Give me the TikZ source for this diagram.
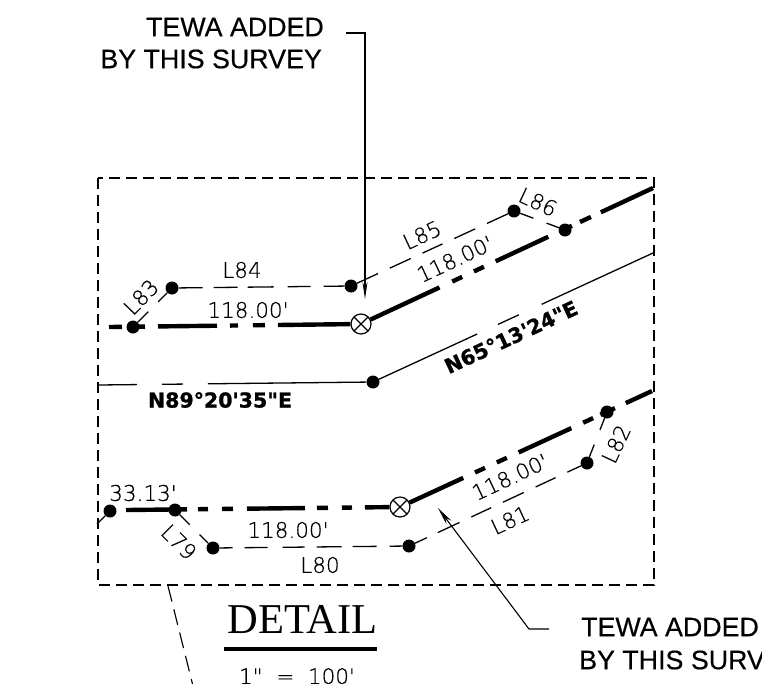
\documentclass[tikz,border=0pt]{standalone}
\usepackage{fontspec}
\usetikzlibrary{arrows.meta}
\newfontfamily\cadthin[FakeBold=0.5]{DejaVu Sans ExtraLight}
\newfontfamily\cadbold[FakeBold=1.2]{DejaVu Sans Bold}
\newfontfamily\notefont[FakeBold=0.4]{Liberation Sans}
\newfontfamily\titlefont{Liberation Serif}
\tikzset{
  dotnode/.style={circle,fill=black,inner sep=0pt,minimum size=13pt},
  tienode/.style={circle,draw,line width=1.2pt,fill=white,inner sep=0pt,minimum size=20pt,
    path picture={\draw[line width=1.2pt] (path picture bounding box.north west) -- (path picture bounding box.south east);
      \draw[line width=1.2pt] (path picture bounding box.north east) -- (path picture bounding box.south west);}},
  callinfo/.style={inner sep=0pt,font=\cadthin\fontsize{21.5}{24}\selectfont},
  bearing/.style={inner sep=0pt,font=\cadbold\fontsize{20.5}{24}\selectfont},
  notetext/.style={inner sep=0pt,font=\notefont\fontsize{26.8}{28}\selectfont},
  thinline/.style={line width=1.3pt},
  fatline/.style={line width=4.4pt},
  leader/.style={line width=1.1pt}
}
\begin{document}
\begin{tikzpicture}[x=1pt,y=-1pt]
\clip (0,0) rectangle (762,683);

% detail frame
\draw[thinline,dash pattern=on 11pt off 6pt] (98,178) rectangle (654,585);
\coordinate (detailA) at (168,586);
\coordinate (detailB) at (194,690);
\draw[leader,dash pattern=on 16pt off 8pt] (detailA) -- (detailB);

% points
\node[dotnode] (p83) at (133,327) {};
\node[dotnode] (p84) at (172,288) {};
\node[dotnode] (p85) at (351,286) {};
\node[dotnode] (p86) at (514,211) {};
\node[dotnode] (p87) at (565,230) {};
\node[dotnode] (p88) at (373,382) {};
\node[dotnode] (p33) at (110,511) {};
\node[dotnode] (p79) at (175,510) {};
\node[dotnode] (p80) at (213,548) {};
\node[dotnode] (p81) at (409,546) {};
\node[dotnode] (p82) at (587,463) {};
\node[dotnode] (p89) at (607,412) {};
\node[tienode] (tieA) at (361,324) {};
\node[tienode] (tieB) at (400,507) {};

% free ends
\coordinate (fatA) at (109,327);
\coordinate (fatB) at (653,188);
\coordinate (fatC) at (126,510);
\coordinate (fatD) at (652,391);
\coordinate (roadA) at (98,385);
\coordinate (roadB) at (653,253);
\coordinate (stub) at (97,524);

% fat lines
\draw[fatline,dash pattern=on 13pt off 13pt on 10pt off 13pt on 59pt off 13pt on 8pt off 15pt on 12pt off 13pt on 90pt] (fatA) -- (tieA);
\draw[fatline,dash pattern=on 76pt off 14pt on 11pt off 13pt on 11pt off 13pt on 58pt off 13pt on 13pt off 9pt on 12pt off 11pt on 90pt] (tieA) -- (fatB);
\draw[fatline,dash pattern=on 61pt off 11pt on 10pt off 14pt on 11pt off 14pt on 58pt off 12pt on 11pt off 14pt on 10pt off 13pt on 40pt] (fatC) -- (tieB);
\draw[fatline,dash pattern=on 59pt off 13pt on 11pt off 13pt on 11pt off 13pt on 58pt off 13pt on 11pt off 8pt on 16pt off 12pt on 40pt] (tieB) -- (fatD);

% thin lines
\draw[thinline,dash pattern=on 24pt off 11pt on 24pt off 10pt on 26pt off 14pt on 23pt off 13pt on 30pt] (p84) -- (p85);
\draw[thinline,dash pattern=on 23pt off 13pt on 23pt off 13pt on 22pt off 13pt on 23pt off 13pt on 30pt] (p85) -- (p86);
\draw[thinline,dash pattern=on 13pt off 12pt on 23pt off 15pt on 22pt off 12pt on 25pt off 11pt on 24pt off 13pt on 20pt] (p80) -- (p81);
\draw[thinline,dash pattern=on 13pt off 12pt on 24pt off 13pt on 22pt off 13pt on 23pt off 13pt on 22pt off 13pt on 30pt] (p81) -- (p82);
\draw[thinline,dash pattern=on 15pt off 14pt on 30pt] (p83) -- (p84);
\draw[thinline,dash pattern=on 14pt off 14pt on 30pt] (p86) -- (p87);
\draw[thinline,dash pattern=on 14pt off 14pt on 30pt] (p79) -- (p80);
\draw[thinline,dash pattern=on 13pt off 16pt on 30pt] (p82) -- (p89);
\draw[thinline] (p33) -- (stub);
\draw[thinline,dash pattern=on 39pt off 25pt on 21pt off 25pt on 200pt] (roadA) -- (p88);
\draw[thinline,dash pattern=on 108pt off 23pt on 23pt off 25pt on 200pt] (p88) -- (roadB);

% labels
\node[callinfo] (lab84) at (242,270) {L84};
\node[callinfo,rotate=46] (lab83) at (141,297) {L83};
\node[callinfo,rotate=25] (lab85) at (422,235) {L85};
\node[callinfo,rotate=-25] (lab86) at (538,202) {L86};
\node[callinfo] (dist84) at (248,310) {118.00'};
\node[callinfo,rotate=25] (dist85) at (455,259) {118.00'};
\node[callinfo] (dist33) at (143,493) {33.13'};
\node[callinfo,rotate=-45] (lab79) at (179,542) {L79};
\node[callinfo] (dist80) at (288,530) {118.00'};
\node[callinfo] (lab80) at (320,565) {L80};
\node[callinfo,rotate=25] (dist81) at (510,477) {118.00'};
\node[callinfo,rotate=25] (lab81) at (510,520) {L81};
\node[callinfo,rotate=65] (lab82) at (616,444) {L82};
\node[bearing] (brgA) at (220,400) {N89°20'35"E};
\node[bearing,rotate=25] (brgB) at (511,337) {N65°13'24"E};

% notes
\node[notetext,anchor=east] (noteA) at (324,27) {TEWA ADDED};
\node[notetext,anchor=east] (noteB) at (322,59) {BY THIS SURVEY};
\node[notetext,anchor=west] (noteC) at (581,627) {TEWA ADDED};
\node[notetext,anchor=west] (noteD) at (579,660) {BY THIS SURV};
\coordinate (leadA) at (346,33);
\coordinate (leadB) at (365,33);
\coordinate (tipA) at (365,299);
\coordinate (leadC) at (549,629);
\coordinate (leadD) at (529,629);
\coordinate (tipB) at (438,508);
\draw[leader,-{Stealth[length=17pt,width=5pt]}] (leadA) -- (leadB) -- (tipA);
\draw[leader,-{Stealth[length=18pt,width=6pt]}] (leadC) -- (leadD) -- (tipB);

% title
\node[inner sep=0pt,font=\titlefont\fontsize{42.5}{46}\selectfont] (title) at (302.5,620) {DETAIL};
\coordinate (ruleA) at (224,649);
\coordinate (ruleB) at (377,649);
\draw[fatline] (ruleA) -- (ruleB);
\node[callinfo,anchor=base] (scale) at (297,684) {1"\ \ =\ \ 100'};
\end{tikzpicture}
\end{document}
